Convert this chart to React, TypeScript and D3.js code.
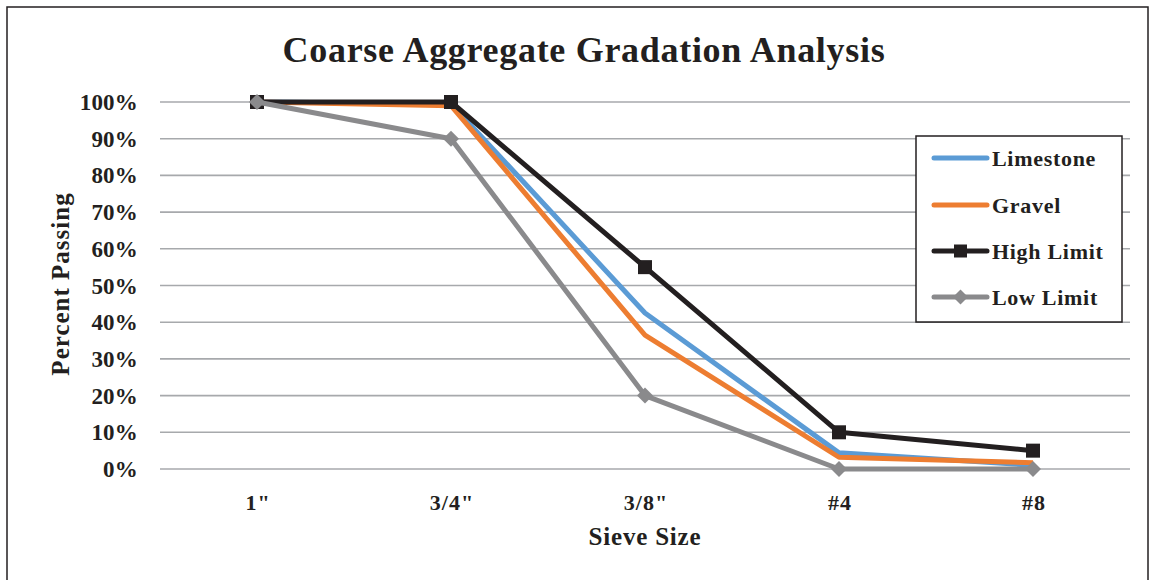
import React from "react";
import * as d3 from "d3";

const categories = ['1"', '3/4"', '3/8"', "#4", "#8"];
const limestone = [100, 99.5, 42.5, 4.4, 1];
const gravel = [100, 99, 36.5, 3.2, 1.7];
const highLimit = [100, 100, 55, 10, 5];
const lowLimit = [100, 90, 20, 0, 0];
const yTicks = [0, 10, 20, 30, 40, 50, 60, 70, 80, 90, 100];

const series = [
  { name: "Limestone", values: limestone, color: "#5B9BD5", marker: "none" },
  { name: "Gravel", values: gravel, color: "#ED7D31", marker: "none" },
  { name: "High Limit", values: highLimit, color: "#231F20", marker: "square" },
  { name: "Low Limit", values: lowLimit, color: "#8A8A8C", marker: "diamond" },
];

const FONT = "'Liberation Serif', 'Times New Roman', serif";

export default function App() {
  const W = 1151;
  const H = 580;
  const x = d3.scaleBand<string>().domain(categories).range([160, 1130]);
  const y = d3.scaleLinear().domain([0, 100]).range([469, 102]);
  const cx = (c: string) => (x(c) as number) + x.bandwidth() / 2;
  const line = d3
    .line<number>()
    .x((_, i) => cx(categories[i]))
    .y((v) => y(v));

  const marker = (type: string, px: number, py: number, color: string, key: string, size = 14) => {
    if (type === "square")
      return <rect key={key} x={px - size / 2} y={py - size / 2} width={size} height={size} fill={color} />;
    if (type === "diamond") {
      const s = size / 2 + 1;
      return (
        <path key={key} d={`M${px},${py - s}L${px + s},${py}L${px},${py + s}L${px - s},${py}Z`} fill={color} />
      );
    }
    return null;
  };

  const legendRows = [158, 205, 251, 297];

  return (
    <svg width={W} height={H} style={{ position: "absolute", left: 0, top: 0, background: "#fff" }}>
      <rect x={7} y={7} width={1141} height={600} fill="#fff" stroke="#231F20" strokeWidth={1.5} />
      <text
        x={584}
        y={62}
        textAnchor="middle"
        fontFamily={FONT}
        fontWeight="bold"
        fontSize={36}
        letterSpacing={0.7}
        fill="#231F20"
      >
        Coarse Aggregate Gradation Analysis
      </text>
      {yTicks.map((t) => (
        <g key={t}>
          <line x1={160} x2={1130} y1={y(t)} y2={y(t)} stroke="#A7A9AC" strokeWidth={1.6} />
          <text
            x={138}
            y={y(t)}
            dy="0.35em"
            textAnchor="end"
            fontFamily={FONT}
            fontWeight="bold"
            fontSize={23}
            letterSpacing={0.2}
            fill="#231F20"
          >
            {t + "%"}
          </text>
        </g>
      ))}
      {categories.map((c) => (
        <text
          key={c}
          x={cx(c) + 1}
          y={502}
          dy="0.35em"
          textAnchor="middle"
          fontFamily={FONT}
          fontWeight="bold"
          fontSize={22}
          letterSpacing={1}
          fill="#231F20"
        >
          {c}
        </text>
      ))}
      <text
        x={645}
        y={536}
        dy="0.35em"
        textAnchor="middle"
        fontFamily={FONT}
        fontWeight="bold"
        fontSize={25}
        letterSpacing={0.8}
        fill="#231F20"
      >
        Sieve Size
      </text>
      <text
        transform="translate(60,284) rotate(-90)"
        dy="0.35em"
        textAnchor="middle"
        fontFamily={FONT}
        fontWeight="bold"
        fontSize={25}
        letterSpacing={1}
        fill="#231F20"
      >
        Percent Passing
      </text>
      {series.map((s) => (
        <g key={s.name}>
          <path d={line(s.values) || ""} fill="none" stroke={s.color} strokeWidth={5} strokeLinejoin="round" />
          {s.values.map((v, i) => marker(s.marker, cx(categories[i]), y(v), s.color, s.name + i))}
        </g>
      ))}
      <rect x={916} y={136} width={206} height={186} fill="#fff" stroke="#231F20" strokeWidth={1.5} />
      {series.map((s, i) => (
        <g key={"lg" + s.name}>
          <line x1={934} x2={987} y1={legendRows[i]} y2={legendRows[i]} stroke={s.color} strokeWidth={5} strokeLinecap="round" />
          {marker(s.marker, 960.5, legendRows[i], s.color, "lm" + i, 13)}
          <text
            x={992}
            y={legendRows[i]}
            dy="0.35em"
            fontFamily={FONT}
            fontWeight="bold"
            fontSize={22}
            letterSpacing={0.7}
            fill="#231F20"
          >
            {s.name}
          </text>
        </g>
      ))}
    </svg>
  );
}
